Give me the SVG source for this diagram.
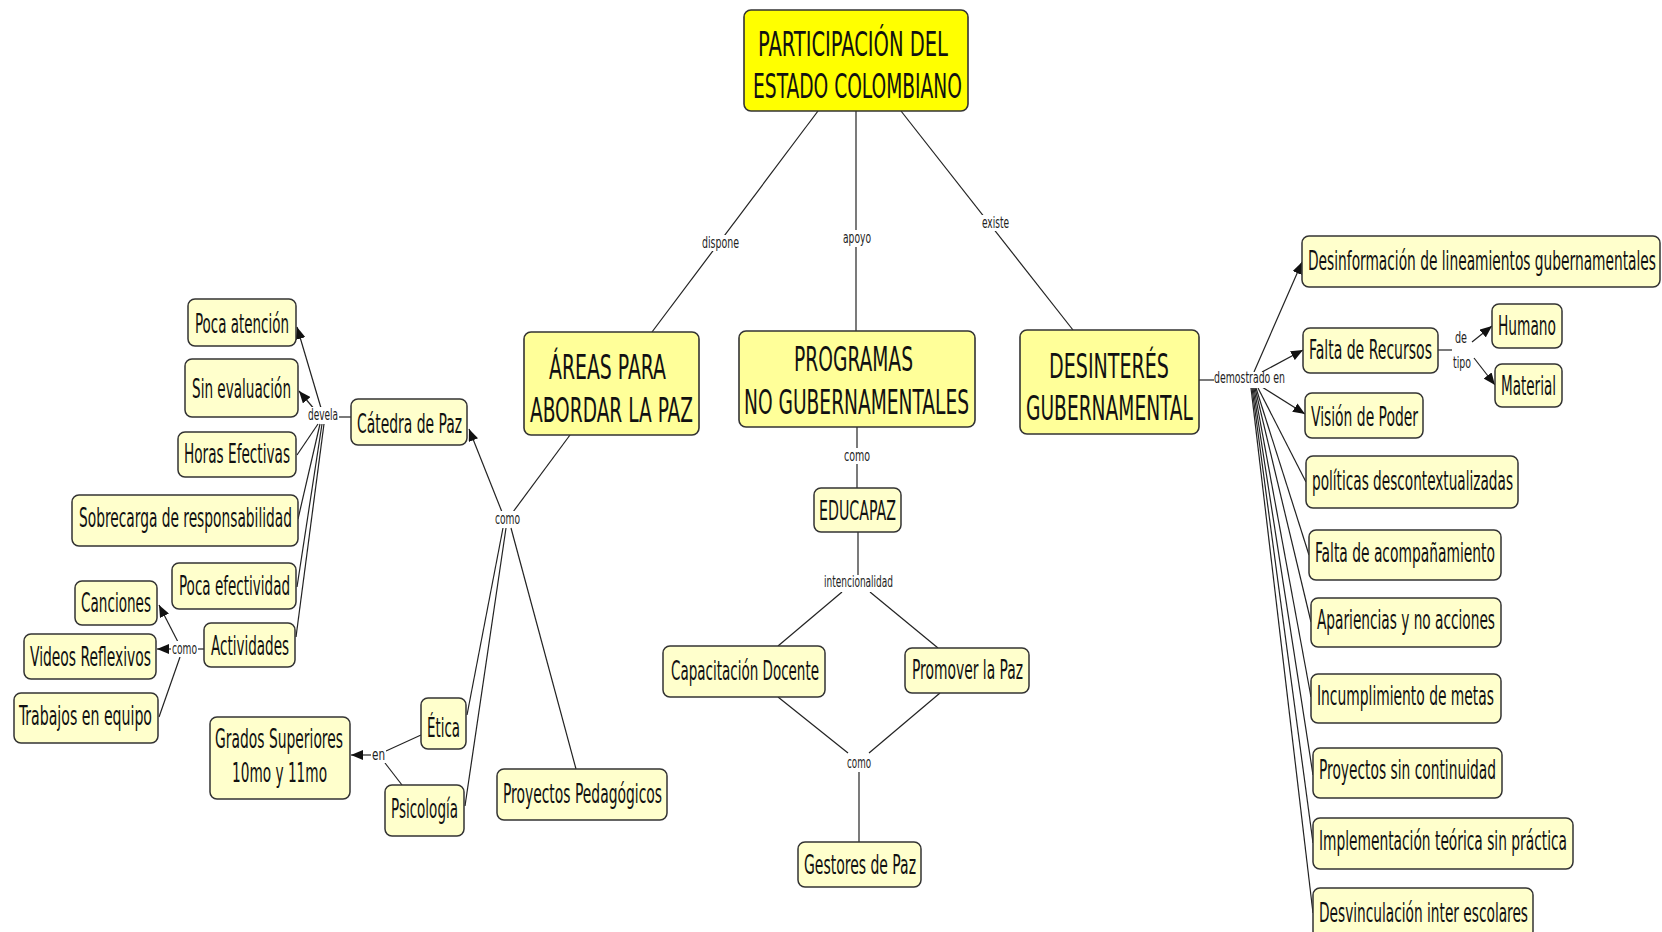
<svg xmlns="http://www.w3.org/2000/svg" width="1662" height="932" viewBox="0 0 1662 932">
<style>
.n0{fill:#ffff00;stroke:#333;stroke-width:1.6}
.n1{fill:#ffff99;stroke:#333;stroke-width:1.6}
.n2{fill:#ffffcc;stroke:#333;stroke-width:1.5}
.t{font-family:"DejaVu Sans Condensed","DejaVu Sans",sans-serif;fill:#111}
.big{font-size:34px}
.sm{font-size:26px}
.lb{font-family:"DejaVu Sans Condensed","DejaVu Sans",sans-serif;font-size:16px;fill:#222}
.bg{fill:#fff}
#connectors line{stroke:#222;stroke-width:1.2;fill:none}
.ar{marker-end:url(#ah)}
</style>
<defs>
<marker id="ah" markerUnits="userSpaceOnUse" markerWidth="12" markerHeight="10" refX="12" refY="5" orient="auto">
<path d="M0,0 L12,5 L0,10 z" fill="#111"/>
</marker>
</defs>
<rect width="1662" height="932" fill="#fff"/>
<g id="connectors">
<line x1="818" y1="111" x2="652" y2="332"/>
<line x1="856" y1="111" x2="856" y2="331"/>
<line x1="901" y1="111" x2="1073" y2="330"/>
<line x1="570" y1="435" x2="513" y2="512"/>
<line class="ar" x1="502" y1="512" x2="469" y2="429"/>
<line x1="503" y1="528" x2="467" y2="715"/>
<line x1="506" y1="528" x2="465" y2="806"/>
<line x1="511" y1="528" x2="576" y2="769"/>
<line x1="351" y1="417" x2="339" y2="417"/>
<line class="ar" x1="321" y1="408" x2="297" y2="327"/>
<line class="ar" x1="315" y1="410" x2="299" y2="391"/>
<line x1="318" y1="424" x2="297" y2="455"/>
<line x1="320" y1="424" x2="298" y2="519"/>
<line x1="322" y1="424" x2="297" y2="587"/>
<line x1="324" y1="424" x2="296" y2="637"/>
<line x1="204" y1="649" x2="198" y2="649"/>
<line class="ar" x1="171" y1="649" x2="157" y2="649"/>
<line class="ar" x1="178" y1="642" x2="159" y2="605"/>
<line x1="180" y1="657" x2="159" y2="717"/>
<line x1="421" y1="735" x2="386" y2="751"/>
<line x1="402" y1="785" x2="385" y2="763"/>
<line class="ar" x1="371" y1="755" x2="351" y2="755"/>
<line x1="857" y1="427" x2="857" y2="488"/>
<line x1="858" y1="532" x2="858" y2="577"/>
<line x1="842" y1="592" x2="778" y2="646"/>
<line x1="870" y1="592" x2="938" y2="648"/>
<line x1="778" y1="697" x2="848" y2="753"/>
<line x1="940" y1="693" x2="869" y2="753"/>
<line x1="859" y1="772" x2="859" y2="842"/>
<line x1="1199" y1="380" x2="1214" y2="380"/>
<line class="ar" x1="1254" y1="372" x2="1302" y2="262"/>
<line class="ar" x1="1262" y1="372" x2="1303" y2="350"/>
<line class="ar" x1="1262" y1="387" x2="1305" y2="414"/>
<line x1="1258" y1="388" x2="1306" y2="482"/>
<line x1="1256" y1="388" x2="1309" y2="555"/>
<line x1="1255" y1="388" x2="1311" y2="622"/>
<line x1="1254" y1="388" x2="1311" y2="697"/>
<line x1="1253" y1="388" x2="1313" y2="775"/>
<line x1="1252" y1="388" x2="1313" y2="843"/>
<line x1="1251" y1="388" x2="1313" y2="913"/>
<line x1="1438" y1="350" x2="1452" y2="350"/>
<line class="ar" x1="1472" y1="342" x2="1492" y2="326"/>
<line class="ar" x1="1474" y1="358" x2="1495" y2="385"/>
</g>
<g id="labels">
<rect class="bg" x="701" y="235" width="39" height="16"/><text class="lb" x="702" y="248" textLength="37" lengthAdjust="spacingAndGlyphs">dispone</text>
<rect class="bg" x="842" y="230" width="30" height="17"/><text class="lb" x="843" y="243" textLength="28" lengthAdjust="spacingAndGlyphs">apoyo</text>
<rect class="bg" x="981" y="215" width="29" height="16"/><text class="lb" x="982" y="228" textLength="27" lengthAdjust="spacingAndGlyphs">existe</text>
<rect class="bg" x="843" y="448" width="28" height="16"/><text class="lb" x="844" y="461" textLength="26" lengthAdjust="spacingAndGlyphs">como</text>
<rect class="bg" x="494" y="511" width="27" height="16"/><text class="lb" x="495" y="524" textLength="25" lengthAdjust="spacingAndGlyphs">como</text>
<rect class="bg" x="307" y="407" width="32" height="16"/><text class="lb" x="308" y="420" textLength="30" lengthAdjust="spacingAndGlyphs">devela</text>
<rect class="bg" x="171" y="641" width="27" height="16"/><text class="lb" x="172" y="654" textLength="25" lengthAdjust="spacingAndGlyphs">como</text>
<rect class="bg" x="371" y="747" width="15" height="16"/><text class="lb" x="372" y="760" textLength="13" lengthAdjust="spacingAndGlyphs">en</text>
<rect class="bg" x="823" y="575" width="71" height="17"/><text class="lb" x="824" y="587" textLength="69" lengthAdjust="spacingAndGlyphs">intencionalidad</text>
<rect class="bg" x="846" y="755" width="26" height="17"/><text class="lb" x="847" y="768" textLength="24" lengthAdjust="spacingAndGlyphs">como</text>
<rect class="bg" x="1214" y="372" width="72" height="16"/><text class="lb" x="1214" y="383" textLength="71" lengthAdjust="spacingAndGlyphs">demostrado en</text>
<text class="lb" x="1455" y="343" textLength="12" lengthAdjust="spacingAndGlyphs">de</text>
<text class="lb" x="1453" y="368" textLength="18" lengthAdjust="spacingAndGlyphs">tipo</text>
</g>
<g id="n-top"><rect class="n0" x="744" y="10" width="224" height="101" rx="7"/>
<text class="t big" x="758" y="56" textLength="190" lengthAdjust="spacingAndGlyphs">PARTICIPACIÓN DEL</text>
<text class="t big" x="753" y="98" textLength="209" lengthAdjust="spacingAndGlyphs">ESTADO COLOMBIANO</text></g>
<g id="n-areas"><rect class="n1" x="524" y="332" width="175" height="103" rx="7"/>
<text class="t big" x="549" y="379" textLength="117" lengthAdjust="spacingAndGlyphs">ÁREAS PARA</text>
<text class="t big" x="530" y="422" textLength="163" lengthAdjust="spacingAndGlyphs">ABORDAR LA PAZ</text></g>
<g id="n-programas"><rect class="n1" x="739" y="331" width="236" height="96" rx="7"/>
<text class="t big" x="794" y="371" textLength="119" lengthAdjust="spacingAndGlyphs">PROGRAMAS</text>
<text class="t big" x="744" y="414" textLength="225" lengthAdjust="spacingAndGlyphs">NO GUBERNAMENTALES</text></g>
<g id="n-desinteres"><rect class="n1" x="1020" y="330" width="179" height="104" rx="7"/>
<text class="t big" x="1049" y="378" textLength="120" lengthAdjust="spacingAndGlyphs">DESINTERÉS</text>
<text class="t big" x="1026" y="420" textLength="167" lengthAdjust="spacingAndGlyphs">GUBERNAMENTAL</text></g>
<g id="n-poca-atencion"><rect class="n2" x="188" y="299" width="108" height="47" rx="7"/><text class="t sm" x="195" y="333" textLength="94" lengthAdjust="spacingAndGlyphs">Poca atención</text></g>
<g id="n-sin-evaluacion"><rect class="n2" x="185" y="359" width="113" height="58" rx="7"/><text class="t sm" x="192" y="398" textLength="99" lengthAdjust="spacingAndGlyphs">Sin evaluación</text></g>
<g id="n-horas"><rect class="n2" x="178" y="432" width="118" height="45" rx="7"/><text class="t sm" x="184" y="463" textLength="106" lengthAdjust="spacingAndGlyphs">Horas Efectivas</text></g>
<g id="n-sobrecarga"><rect class="n2" x="72" y="495" width="226" height="51" rx="7"/><text class="t sm" x="79" y="527" textLength="213" lengthAdjust="spacingAndGlyphs">Sobrecarga de responsabilidad</text></g>
<g id="n-catedra"><rect class="n2" x="351" y="399" width="116" height="46" rx="7"/><text class="t sm" x="357" y="433" textLength="105" lengthAdjust="spacingAndGlyphs">Cátedra de Paz</text></g>
<g id="n-poca-efectividad"><rect class="n2" x="172" y="563" width="124" height="46" rx="7"/><text class="t sm" x="179" y="595" textLength="111" lengthAdjust="spacingAndGlyphs">Poca efectividad</text></g>
<g id="n-actividades"><rect class="n2" x="204" y="623" width="91" height="44" rx="7"/><text class="t sm" x="211" y="655" textLength="78" lengthAdjust="spacingAndGlyphs">Actividades</text></g>
<g id="n-canciones"><rect class="n2" x="75" y="581" width="82" height="44" rx="7"/><text class="t sm" x="81" y="612" textLength="70" lengthAdjust="spacingAndGlyphs">Canciones</text></g>
<g id="n-videos"><rect class="n2" x="24" y="634" width="132" height="45" rx="7"/><text class="t sm" x="30" y="666" textLength="121" lengthAdjust="spacingAndGlyphs">Videos Reflexivos</text></g>
<g id="n-trabajos"><rect class="n2" x="14" y="693" width="144" height="50" rx="7"/><text class="t sm" x="19" y="725" textLength="133" lengthAdjust="spacingAndGlyphs">Trabajos en equipo</text></g>
<g id="n-grados"><rect class="n2" x="210" y="717" width="140" height="82" rx="7"/>
<text class="t sm" x="215" y="748" textLength="128" lengthAdjust="spacingAndGlyphs">Grados Superiores</text>
<text class="t sm" x="232" y="782" textLength="95" lengthAdjust="spacingAndGlyphs">10mo y 11mo</text></g>
<g id="n-etica"><rect class="n2" x="421" y="698" width="45" height="51" rx="7"/><text class="t sm" x="427" y="737" textLength="33" lengthAdjust="spacingAndGlyphs">Ética</text></g>
<g id="n-psicologia"><rect class="n2" x="385" y="785" width="79" height="51" rx="7"/><text class="t sm" x="391" y="818" textLength="67" lengthAdjust="spacingAndGlyphs">Psicología</text></g>
<g id="n-proyectos-ped"><rect class="n2" x="497" y="769" width="170" height="51" rx="7"/><text class="t sm" x="503" y="803" textLength="159" lengthAdjust="spacingAndGlyphs">Proyectos Pedagógicos</text></g>
<g id="n-educapaz"><rect class="n2" x="814" y="488" width="87" height="44" rx="7"/><text class="t sm" x="819" y="520" textLength="77" lengthAdjust="spacingAndGlyphs">EDUCAPAZ</text></g>
<g id="n-capacitacion"><rect class="n2" x="663" y="646" width="162" height="51" rx="7"/><text class="t sm" x="671" y="680" textLength="148" lengthAdjust="spacingAndGlyphs">Capacitación Docente</text></g>
<g id="n-promover"><rect class="n2" x="905" y="648" width="124" height="45" rx="7"/><text class="t sm" x="912" y="679" textLength="111" lengthAdjust="spacingAndGlyphs">Promover la Paz</text></g>
<g id="n-gestores"><rect class="n2" x="798" y="842" width="123" height="45" rx="7"/><text class="t sm" x="804" y="874" textLength="112" lengthAdjust="spacingAndGlyphs">Gestores de Paz</text></g>
<g id="n-desinformacion"><rect class="n2" x="1302" y="236" width="358" height="51" rx="7"/><text class="t sm" x="1308" y="270" textLength="348" lengthAdjust="spacingAndGlyphs">Desinformación de lineamientos gubernamentales</text></g>
<g id="n-falta-recursos"><rect class="n2" x="1303" y="328" width="135" height="45" rx="7"/><text class="t sm" x="1309" y="359" textLength="123" lengthAdjust="spacingAndGlyphs">Falta de Recursos</text></g>
<g id="n-humano"><rect class="n2" x="1492" y="304" width="70" height="44" rx="7"/><text class="t sm" x="1498" y="335" textLength="58" lengthAdjust="spacingAndGlyphs">Humano</text></g>
<g id="n-material"><rect class="n2" x="1495" y="364" width="67" height="43" rx="7"/><text class="t sm" x="1501" y="395" textLength="55" lengthAdjust="spacingAndGlyphs">Material</text></g>
<g id="n-vision"><rect class="n2" x="1305" y="393" width="118" height="45" rx="7"/><text class="t sm" x="1311" y="426" textLength="107" lengthAdjust="spacingAndGlyphs">Visión de Poder</text></g>
<g id="n-politicas"><rect class="n2" x="1306" y="456" width="212" height="52" rx="7"/><text class="t sm" x="1312" y="490" textLength="201" lengthAdjust="spacingAndGlyphs">políticas descontextualizadas</text></g>
<g id="n-falta-acomp"><rect class="n2" x="1309" y="530" width="192" height="50" rx="7"/><text class="t sm" x="1315" y="562" textLength="180" lengthAdjust="spacingAndGlyphs">Falta de acompañamiento</text></g>
<g id="n-apariencias"><rect class="n2" x="1311" y="598" width="190" height="49" rx="7"/><text class="t sm" x="1317" y="629" textLength="178" lengthAdjust="spacingAndGlyphs">Apariencias y no acciones</text></g>
<g id="n-incumplimiento"><rect class="n2" x="1311" y="674" width="190" height="49" rx="7"/><text class="t sm" x="1317" y="705" textLength="177" lengthAdjust="spacingAndGlyphs">Incumplimiento de metas</text></g>
<g id="n-proyectos-sin"><rect class="n2" x="1313" y="748" width="189" height="50" rx="7"/><text class="t sm" x="1319" y="779" textLength="177" lengthAdjust="spacingAndGlyphs">Proyectos sin continuidad</text></g>
<g id="n-implementacion"><rect class="n2" x="1313" y="818" width="260" height="51" rx="7"/><text class="t sm" x="1319" y="850" textLength="248" lengthAdjust="spacingAndGlyphs">Implementación teórica sin práctica</text></g>
<g id="n-desvinculacion"><rect class="n2" x="1313" y="888" width="220" height="50" rx="7"/><text class="t sm" x="1319" y="922" textLength="209" lengthAdjust="spacingAndGlyphs">Desvinculación inter escolares</text></g>
</svg>
